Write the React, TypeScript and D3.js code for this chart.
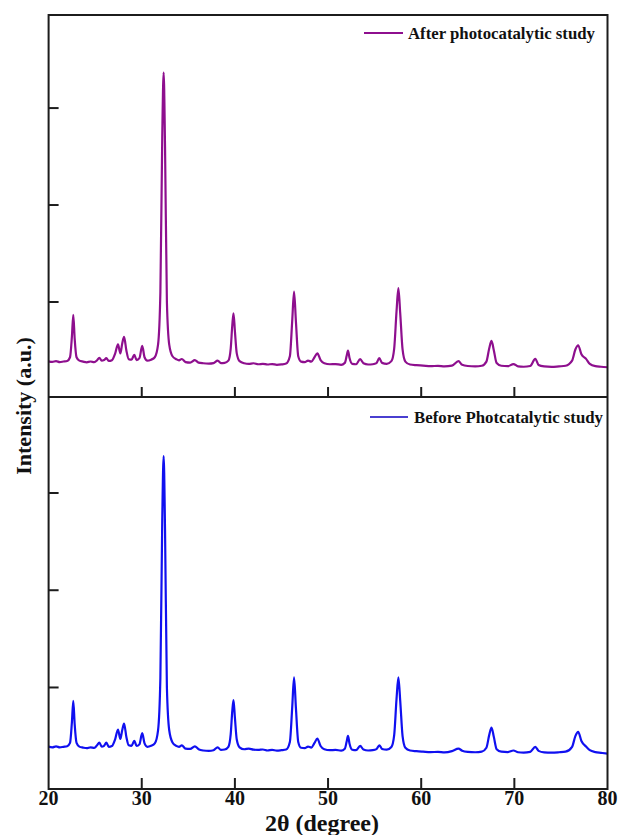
import React from 'react';
import * as d3 from 'd3';

// 2θ (deg), intensity (a.u.)
const afterPattern: [number, number][] = [
  [20.0, 388], [20.4, 382], [20.8, 390], [21.2, 380], [21.6, 386], [22.0, 392], [22.3, 430],
  [22.5, 640], [22.65, 867], [22.8, 620], [23.0, 430], [23.3, 395], [23.7, 385], [24.1, 378],
  [24.5, 386], [24.9, 380], [25.2, 398], [25.45, 425], [25.7, 395], [25.95, 402], [26.2, 420],
  [26.45, 392], [26.8, 400], [27.15, 470], [27.45, 564], [27.7, 470], [27.9, 570], [28.1, 640],
  [28.35, 500], [28.6, 410], [28.9, 405], [29.2, 455], [29.45, 400], [29.75, 420], [30.05, 547],
  [30.3, 430], [30.6, 395], [31.0, 405], [31.4, 430], [31.75, 560], [32.0, 1100], [32.2, 2700],
  [32.35, 3367], [32.5, 2600], [32.7, 1000], [32.95, 560], [33.3, 440], [33.7, 410], [34.0, 398],
  [34.3, 412], [34.7, 380], [35.2, 375], [35.7, 400], [36.1, 375], [36.6, 368], [37.2, 365],
  [37.7, 370], [38.15, 395], [38.5, 370], [38.9, 372], [39.3, 395], [39.55, 520], [39.72, 760],
  [39.85, 884], [40.0, 700], [40.2, 470], [40.5, 390], [41.0, 368], [41.5, 362], [42.0, 368],
  [42.5, 358], [43.0, 362], [43.5, 355], [44.0, 360], [44.5, 352], [45.0, 356], [45.5, 365],
  [45.9, 440], [46.15, 800], [46.35, 1107], [46.55, 800], [46.8, 440], [47.1, 385], [47.5, 380],
  [47.85, 395], [48.2, 385], [48.55, 430], [48.85, 471], [49.2, 400], [49.6, 368], [50.2, 358],
  [50.8, 360], [51.4, 352], [51.8, 372], [52.0, 445], [52.14, 499], [52.3, 425], [52.6, 362],
  [53.0, 358], [53.45, 410], [53.8, 368], [54.3, 355], [54.8, 358], [55.2, 370], [55.5, 420],
  [55.8, 372], [56.3, 362], [56.8, 390], [57.1, 520], [57.35, 900], [57.55, 1142], [57.75, 880],
  [58.0, 510], [58.3, 385], [58.8, 355], [59.5, 348], [60.2, 344], [61.0, 338], [61.8, 342],
  [62.5, 336], [63.3, 344], [64.0, 389], [64.4, 352], [65.0, 340], [65.8, 336], [66.5, 342],
  [67.0, 385], [67.3, 520], [67.55, 599], [67.8, 500], [68.1, 370], [68.6, 342], [69.3, 338],
  [69.9, 360], [70.4, 336], [71.0, 332], [71.7, 340], [72.25, 413], [72.6, 350], [73.2, 335],
  [74.0, 330], [74.8, 336], [75.5, 342], [76.2, 395], [76.55, 510], [76.85, 554], [77.2, 460],
  [77.7, 413], [78.1, 362], [78.7, 338], [79.3, 332], [80.0, 327],
];

const beforePattern: [number, number][] = [
  [20.0, 392], [20.4, 385], [20.8, 394], [21.2, 384], [21.6, 390], [22.0, 396], [22.3, 430],
  [22.5, 640], [22.65, 863], [22.8, 620], [23.0, 430], [23.3, 392], [23.7, 382], [24.1, 376],
  [24.5, 385], [24.9, 378], [25.2, 405], [25.45, 433], [25.7, 392], [25.95, 400], [26.2, 433],
  [26.45, 390], [26.8, 398], [27.15, 470], [27.45, 567], [27.7, 470], [27.9, 560], [28.1, 629],
  [28.35, 490], [28.6, 405], [28.9, 400], [29.2, 451], [29.45, 398], [29.75, 415], [30.05, 530],
  [30.3, 425], [30.6, 390], [31.0, 400], [31.4, 425], [31.75, 560], [32.0, 1100], [32.2, 2720],
  [32.35, 3378], [32.5, 2620], [32.7, 1000], [32.95, 560], [33.3, 435], [33.7, 400], [34.0, 390],
  [34.3, 405], [34.7, 372], [35.2, 368], [35.7, 395], [36.1, 365], [36.6, 352], [37.2, 348],
  [37.7, 355], [38.15, 385], [38.5, 358], [38.9, 362], [39.3, 390], [39.55, 520], [39.72, 760],
  [39.85, 870], [40.0, 690], [40.2, 465], [40.5, 385], [41.0, 365], [41.5, 372], [42.0, 360],
  [42.5, 358], [43.0, 362], [43.5, 352], [44.0, 358], [44.5, 350], [45.0, 355], [45.5, 362],
  [45.9, 440], [46.15, 790], [46.35, 1103], [46.55, 790], [46.8, 440], [47.1, 380], [47.5, 376],
  [47.85, 392], [48.2, 382], [48.55, 430], [48.85, 474], [49.2, 398], [49.6, 365], [50.2, 355],
  [50.8, 358], [51.4, 350], [51.8, 370], [52.0, 445], [52.14, 502], [52.3, 425], [52.6, 360],
  [53.0, 355], [53.45, 399], [53.8, 362], [54.3, 352], [54.8, 355], [55.2, 366], [55.5, 406],
  [55.8, 368], [56.3, 360], [56.8, 388], [57.1, 510], [57.35, 880], [57.55, 1103], [57.75, 860],
  [58.0, 500], [58.3, 380], [58.8, 352], [59.5, 345], [60.2, 340], [61.0, 335], [61.8, 338],
  [62.5, 332], [63.3, 345], [64.0, 371], [64.4, 350], [65.0, 338], [65.8, 334], [66.5, 340],
  [67.0, 380], [67.3, 510], [67.55, 588], [67.8, 490], [68.1, 365], [68.6, 340], [69.3, 336],
  [69.9, 352], [70.4, 334], [71.0, 330], [71.7, 338], [72.25, 389], [72.6, 348], [73.2, 333],
  [74.0, 330], [74.8, 334], [75.5, 340], [76.2, 390], [76.55, 500], [76.85, 543], [77.2, 450],
  [77.7, 392], [78.1, 355], [78.7, 335], [79.3, 328], [80.0, 320],
];

const xTicks = [20, 30, 40, 50, 60, 70, 80];
const yTicks = [1000, 2000, 3000];
const afterLabel = 'After photocatalytic study';
const beforeLabel = 'Before Photcatalytic study';

const W = 620;
const H = 835;
const left = 48.6, right = 607.5, top = 15, mid = 397, bottom = 789;
const axisColor = '#1c1c1c';
const afterColor = '#8e0f8e';
const beforeColor = '#1010f0';
const font = '"Liberation Serif", "Times New Roman", serif';

const App = () => {
  const x = d3.scaleLinear().domain([20, 80]).range([left, right]);
  const yTop = d3.scaleLinear().domain([20, 3960]).range([mid, top]);
  const yBot = d3.scaleLinear().domain([-44, 3987]).range([bottom, mid]);

  const lineTop = d3.line<[number, number]>()
    .x(d => x(d[0]))
    .y(d => yTop(d[1]))
    .curve(d3.curveMonotoneX);
  const lineBot = d3.line<[number, number]>()
    .x(d => x(d[0]))
    .y(d => yBot(d[1]))
    .curve(d3.curveMonotoneX);

  return (
    <svg width={W} height={H} style={{ position: 'absolute', left: 0, top: 0, background: '#fff' }}
      fontFamily={font} fontWeight="bold">
      <defs>
        <clipPath id="clipTop"><rect x={left} y={top} width={right - left} height={mid - top} /></clipPath>
        <clipPath id="clipBot"><rect x={left} y={mid} width={right - left} height={bottom - mid} /></clipPath>
      </defs>

      <path d={lineTop(afterPattern) || ''} fill="none" stroke={afterColor} strokeWidth={2.2}
        strokeLinejoin="round" clipPath="url(#clipTop)" />
      <path d={lineBot(beforePattern) || ''} fill="none" stroke={beforeColor} strokeWidth={2.2}
        strokeLinejoin="round" clipPath="url(#clipBot)" />

      {/* frame + divider */}
      <rect x={left} y={top} width={right - left} height={bottom - top} fill="none" stroke={axisColor} strokeWidth={2} />
      <line x1={left} x2={right} y1={mid} y2={mid} stroke={axisColor} strokeWidth={2} />

      {/* x ticks, inward, on both panels */}
      {xTicks.slice(1, -1).map(t => (
        <g key={t}>
          <line x1={x(t)} x2={x(t)} y1={bottom} y2={bottom - 11} stroke={axisColor} strokeWidth={2} />
          <line x1={x(t)} x2={x(t)} y1={mid} y2={mid - 10} stroke={axisColor} strokeWidth={2} />
        </g>
      ))}
      {xTicks.map(t => (
        <text key={t} x={x(t)} y={805} textAnchor="middle" fontSize={20} fill="#111">{t}</text>
      ))}

      {/* y ticks, no labels */}
      {yTicks.map(t => (
        <g key={t}>
          <line x1={left} x2={left + 10} y1={yTop(t)} y2={yTop(t)} stroke={axisColor} strokeWidth={2} />
          <line x1={left} x2={left + 10} y1={yBot(t)} y2={yBot(t)} stroke={axisColor} strokeWidth={2} />
        </g>
      ))}

      <text x={322} y={831} textAnchor="middle" fontSize={24} fill="#111">2θ (degree)</text>
      <text transform="translate(31, 406) rotate(-90)" textAnchor="middle" fontSize={22} fill="#111">
        Intensity (a.u.)
      </text>

      {/* legends */}
      <line x1={364} x2={403} y1={33} y2={33} stroke={afterColor} strokeWidth={2} />
      <text x={595} y={38.5} textAnchor="end" fontSize={16.8} fill="#111">{afterLabel}</text>
      <line x1={370} x2={408} y1={417} y2={417} stroke="#4a3fd0" strokeWidth={2} />
      <text x={603} y={422.5} textAnchor="end" fontSize={16.8} fill="#111">{beforeLabel}</text>
    </svg>
  );
};

export default App;
